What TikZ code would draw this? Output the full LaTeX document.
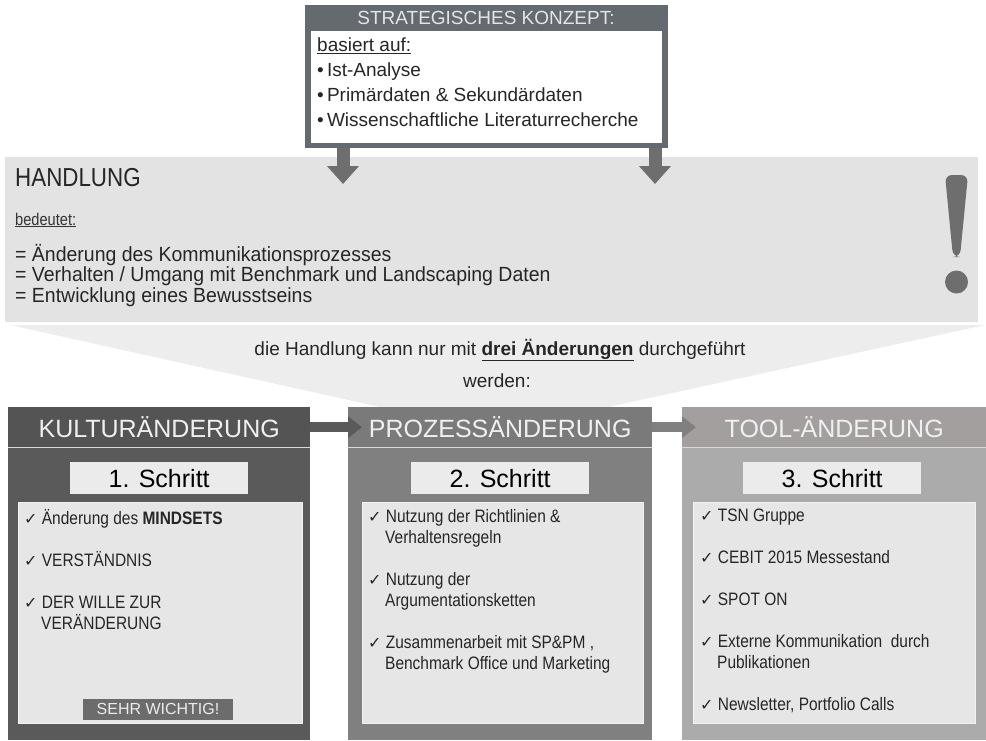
\documentclass[tikz,border=0pt]{standalone}
\usepackage{fontspec}
\setmainfont{Liberation Sans}
\newfontfamily\narrowfont[FakeStretch=0.86]{Liberation Sans}
\newfontfamily\listfont[FakeStretch=0.95]{Liberation Sans}
\newfontfamily\checkfont{DejaVu Sans}
\usetikzlibrary{arrows.meta}
\usetikzlibrary{positioning}
\definecolor{slate}{HTML}{646A6F}
\definecolor{kulturgray}{HTML}{5A5A5A}
\definecolor{kulturhead}{HTML}{545454}
\definecolor{prozessgray}{HTML}{808080}
\definecolor{prozesshead}{HTML}{7A7A7A}
\definecolor{toolgray}{HTML}{ABABAB}
\definecolor{toolhead}{HTML}{A39F9F}
\definecolor{panelgray}{HTML}{E6E6E6}
\definecolor{arrowgray}{HTML}{6E6E6E}
\newcommand{\chk}{{\checkfont\fontsize{16}{16}\selectfont ✓}\ }
\newcommand{\hang}{\hspace*{17pt}}
\tikzset{pixelgrid/.style={x=1pt,y=-1pt}}
\tikzset{colhead/.style={anchor=north west, inner sep=0pt, minimum width=303pt, minimum height=40pt, text=white!94!black, font=\fontsize{25}{28}\selectfont}}
\tikzset{stepbox/.style={anchor=north west, inner sep=0pt, fill=white!92!black, minimum width=178pt, minimum height=32pt, font=\fontsize{25}{28}\selectfont}}
\tikzset{panel/.style={anchor=north west, inner sep=0pt, fill=panelgray, draw=white!95!black, line width=0.8pt, minimum width=283pt, minimum height=221pt}}
\tikzset{itemlist/.style={anchor=north west, inner sep=0pt, align=left, text=black!85, font=\narrowfont\fontsize{18}{21}\selectfont}}
\tikzset{blockarrow/.style={arrowgray, line width=13pt, -{Triangle[width=31pt,length=18pt]}}}
\tikzset{colarrow/.style={line width=10pt, -{Triangle[width=21pt,length=14pt]}, shorten >=-14pt}}

\begin{document}
\begin{tikzpicture}[pixelgrid]
\useasboundingbox (0,0) rectangle (986,740);
%
% wedge behind the note
\fill[white!93!black] (10,325) -- (985,325) -- (493,432) -- cycle;
%
% strategic concept
\node[fill=slate, anchor=north west, inner sep=0pt, minimum width=363pt, minimum height=143pt] (konzept) at (305,5) {};
\node[text=white!90!black, font=\fontsize{19}{22}\selectfont] (konzepttitle) at (486,18) {STRATEGISCHES KONZEPT:};
\node[fill=white, anchor=north west, inner sep=0pt, minimum width=351pt, minimum height=112pt] (basis) at (311,31) {};
\node[anchor=north west, inner sep=0pt, align=left, text=black!85, font=\fontsize{19}{25}\selectfont] (basistext) at (317,38) {%
  \underline{basiert auf:}\\
  \textbullet\,Ist-Analyse\\
  \textbullet\,Primärdaten \& Sekundärdaten\\
  \textbullet\,Wissenschaftliche Literaturrecherche};
%
% handlung
\node[fill=white!89!black, anchor=north west, inner sep=0pt, minimum width=973pt, minimum height=165pt] (handlung) at (5,157) {};
\coordinate (tipL) at (343,184);
\coordinate (tipR) at (655,184);
\draw[blockarrow] (konzept.south -| tipL) -- (tipL);
\draw[blockarrow] (konzept.south -| tipR) -- (tipR);
\node[anchor=base west, inner sep=0pt, text=black!85, font=\narrowfont\fontsize{26}{26}\selectfont] (handlungtitle) at (15,186) {HANDLUNG};
\node[anchor=base west, inner sep=0pt, text=black!80, font=\narrowfont\fontsize{17}{17}\selectfont] (bedeutet) at (15,225) {\underline{bedeutet:}};
\node[anchor=north west, inner sep=0pt, align=left, text=black!85, font=\listfont\fontsize{20.5}{20.5}\selectfont] (bedeutungen) at (15,244) {%
  = Änderung des Kommunikationsprozesses\\
  = Verhalten / Umgang mit Benchmark und Landscaping Daten\\
  = Entwicklung eines Bewusstseins};
\fill[arrowgray, rounded corners=7pt] (945,175) -- (968,175) -- (960,257) -- (953,257) -- cycle;
\fill[arrowgray] (956.5,282) circle (11.5pt);
%
% note on the wedge
\node[text=black!85, font=\fontsize{19}{22}\selectfont] (hinweis) at (500,350) {die Handlung kann nur mit \underline{\textbf{drei Änderungen}} durchgeführt};
\node[text=black!85, font=\fontsize{19}{22}\selectfont] (werden) at (497,381) {werden:};
%
% culture
\fill[kulturgray] (8,407) rectangle (310,740);
\node[colhead, fill=kulturhead, minimum width=302pt] (kultur) at (8,407) {KULTURÄNDERUNG};
\draw[white!70!gray, line width=1pt] (kultur.south west) -- (kultur.south east);
\node[stepbox] (schritt1) at (70,462) {1. Schritt};
\node[panel, minimum width=284pt] (panel1) at (18,502) {};
\node[itemlist] (liste1) at (24,509) {%
  \chk Änderung des \textbf{MINDSETS}\\[21pt]
  \chk VERSTÄNDNIS\\[21pt]
  \chk DER WILLE ZUR\\
  \hang VERÄNDERUNG};
\node[fill=gray!85!black, text=white!85!gray, inner sep=0pt, minimum width=150pt, minimum height=21pt, font=\fontsize{16}{16}\selectfont] (wichtig) at (158,709) {SEHR WICHTIG!};
%
% process
\fill[prozessgray] (348,407) rectangle (652,740);
\node[colhead, fill=prozesshead, minimum width=304pt] (prozess) at (348,407) {PROZESSÄNDERUNG};
\draw[white!70!gray, line width=1pt] (prozess.south west) -- (prozess.south east);
\node[stepbox] (schritt2) at (411,462) {2. Schritt};
\node[panel, minimum width=281pt] (panel2) at (362,502) {};
\node[itemlist] (liste2) at (368,509) {%
  \chk Nutzung der Richtlinien \&\\
  \hang Verhaltensregeln\\[21pt]
  \chk Nutzung der\\
  \hang Argumentationsketten\\[21pt]
  \chk Zusammenarbeit mit SP\&PM ,\\
  \hang Benchmark Office und Marketing};
%
% tool
\fill[toolgray] (682,407) rectangle (986,740);
\node[colhead, fill=toolhead, minimum width=304pt] (tool) at (682,407) {TOOL-ÄNDERUNG};
\draw[white!70!gray, line width=1pt] (tool.south west) -- (tool.south east);
\node[stepbox] (schritt3) at (743,462) {3. Schritt};
\node[panel, minimum width=282pt] (panel3) at (693,502) {};
\node[itemlist] (liste3) at (700,509) {%
  \chk TSN Gruppe\\[21pt]
  \chk CEBIT 2015 Messestand\\[21pt]
  \chk SPOT ON\\[21pt]
  \chk Externe Kommunikation\ \ durch\\
  \hang Publikationen\\[21pt]
  \chk Newsletter, Portfolio Calls};
%
% steps in order
\draw[colarrow, kulturgray] (kultur.east) -- (prozess.west);
\draw[colarrow, prozessgray] (prozess.east) -- (tool.west);
\end{tikzpicture}
\end{document}
